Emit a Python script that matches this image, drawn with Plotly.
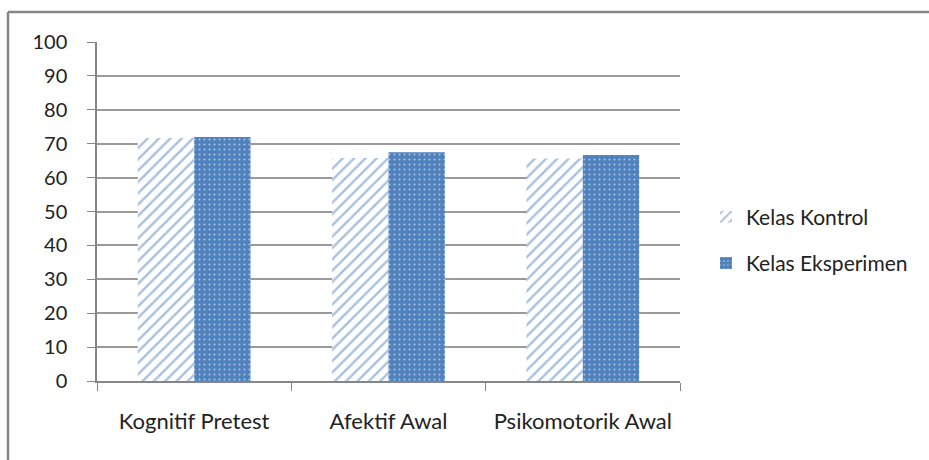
import plotly.graph_objects as go

categories = ["Kognitif Pretest", "Afektif Awal", "Psikomotorik Awal"]
kontrol = [71.7, 65.8, 65.6]
eksperimen = [72.0, 67.5, 66.7]
series_names = ["Kelas Kontrol", "Kelas Eksperimen"]
y_ticks = list(range(0, 101, 10))

BLUE = "#4F81BD"
FONT = "Lato"

fig = go.Figure()
fig.add_trace(go.Bar(
    x=categories, y=kontrol, name=series_names[0], legendgroup="a",
    marker=dict(color="white", line=dict(width=0),
                pattern=dict(shape="/", fgcolor=BLUE, bgcolor="white",
                             size=8, solidity=0.3)),
))
fig.add_trace(go.Bar(
    x=categories, y=eksperimen, name=series_names[1], legendgroup="b",
    marker=dict(color=BLUE, line=dict(width=0),
                pattern=dict(shape=".", fgcolor="white", bgcolor=BLUE,
                             size=5, solidity=0.15)),
))

L, R, T, B = 97, 680, 42, 381
W, H = 929, 460
fig.update_layout(
    width=W, height=H,
    margin=dict(l=L, r=W - R, t=T, b=H - B, pad=0),
    paper_bgcolor="white", plot_bgcolor="white",
    barmode="group", bargap=0.42, bargroupgap=0,
    font=dict(family=FONT, size=20, color="#222"),
    showlegend=True,
    legend=dict(x=(706 - L) / (R - L), xanchor="left",
                y=(B - 240) / (B - T), yanchor="middle",
                font=dict(family=FONT, size=21, color="#222"),
                itemwidth=30, tracegroupgap=16, bgcolor="rgba(0,0,0,0)"),
)
fig.update_yaxes(
    range=[0, 100], tickvals=y_ticks, showgrid=True,
    gridcolor="#9a9a9a", gridwidth=1.5,
    showline=True, linecolor="#868686", linewidth=1.5,
    ticks="outside", ticklen=8, tickcolor="#868686",
    ticklabelstandoff=16,
    zeroline=False, fixedrange=True,
    tickfont=dict(family=FONT, size=20, color="#222"),
)
fig.update_xaxes(
    showline=True, linecolor="#868686", linewidth=1.5,
    ticks="outside", ticklen=8, tickcolor="#868686",
    tickson="boundaries", ticklabelstandoff=20, fixedrange=True,
    tickfont=dict(family=FONT, size=22, color="#222"),
)

# outer chart border (top and left)
x_left = (8 - L) / (R - L)
y_top = 1 + (T - 12) / (B - T)
x_right = 1 + (929 - R) / (R - L)
y_bot = -(H - B + 5) / (B - T)
fig.add_shape(type="line", xref="paper", yref="paper",
              x0=x_left, x1=x_right, y0=y_top, y1=y_top,
              line=dict(color="#868686", width=2.5))
fig.add_shape(type="line", xref="paper", yref="paper",
              x0=x_left, x1=x_left, y0=y_top, y1=y_bot,
              line=dict(color="#868686", width=2.5))

fig.write_html("out.html")
